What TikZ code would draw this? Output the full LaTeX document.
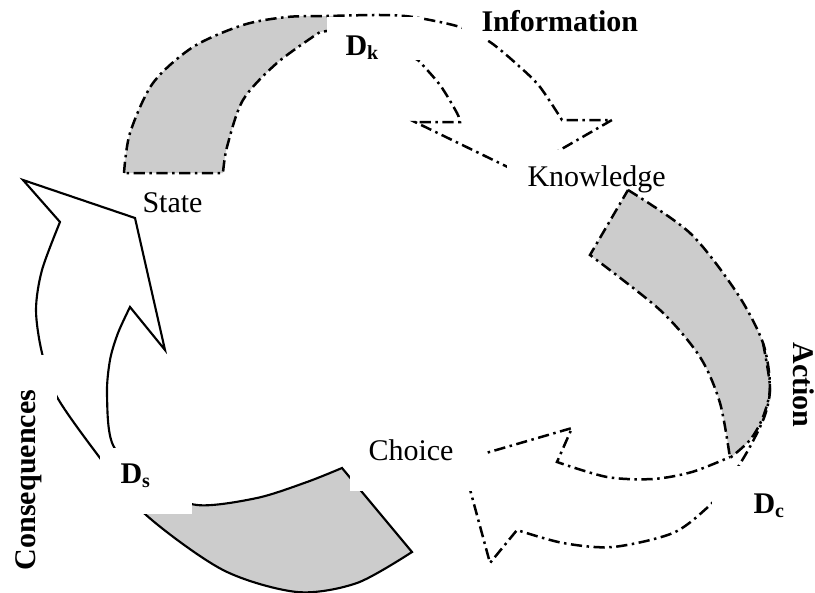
\documentclass[tikz,border=0pt]{standalone}
\usepackage{fontspec}
\setmainfont{Liberation Serif}
\definecolor{shadegray}{HTML}{CCCCCC}

\begin{document}
\begin{tikzpicture}[x=0.4pt,y=-0.4pt,
    dashdot/.style={line width=1pt, dash pattern=on 4.5pt off 1.8pt on 1pt off 1.8pt},
    solidline/.style={line width=0.85pt},
    mask/.style={fill=white},
    lbl/.style={inner sep=0pt, anchor=base west, font=\fontsize{12}{14}\selectfont},
    blbl/.style={lbl, font=\fontsize{12}{14}\selectfont\bfseries}]
\useasboundingbox (0,0) rectangle (815,593);

\def\infopath{plot[smooth] coordinates {(124,173) (130,133) (153,83) (193,47) (243,25) (287,17) (327,16) (380,15) (413,17) (460,27) (490,42) (520,67) (540,87) (562,120)} -- (612,120) -- (520,173) -- (415,122) -- (460,122) -- plot[smooth] coordinates {(460,122) (457,113) (440,85) (418,60)} -- (370,36) -- (327,31) -- plot[smooth] coordinates {(320,32) (277,63) (243,100) (227,147) (223,173)} -- cycle}
\def\conspath{plot[smooth] coordinates {(60,222) (42,270) (36,310) (42,353) (57,397) (100,458) (145,514) (223,570) (297,592) (357,583) (412,552)} -- (342,468) -- plot[smooth] coordinates {(342,468) (307,482) (257,498) (197,505) (150,485) (113,445) (107,395) (110,360) (118,333) (130,307)} -- (165,350) -- (135,218) -- (23,180) -- cycle}

% Information
\begin{scope}
\clip (0,0) rectangle (338,200);
\fill[shadegray] \infopath;
\end{scope}
\draw[dashdot] \infopath;

% Action
\filldraw[dashdot, fill=shadegray] plot[smooth] coordinates {(628,190) (690,233) (737,293) (763,343) (770,387) (763,417) (750,440) (730,458)} -- plot[smooth] coordinates {(730,458) (720,403) (700,357) (660,310) (590,255)} -- cycle;
\draw[dashdot] plot[smooth] coordinates {(763,343) (770,387) (765,415) (752,443) (738,467) (722,490) (708,507) (673,533) (613,547) (563,543) (517,530)} -- (490,563) -- (462,460) -- (572,428) -- (557,462) -- plot[smooth] coordinates {(557,462) (607,477) (653,479) (692,472) (730,457)};

% Consequences
\begin{scope}
\clip (135,460) rectangle (450,600);
\fill[shadegray] \conspath;
\end{scope}
\draw[solidline] \conspath;

\fill[mask] (327,17) rectangle (420,60);
\fill[mask] (462,0) rectangle (640,40);
\fill[mask] (507,150) rectangle (665,188);
\fill[mask] (350,425) rectangle (487,491);
\fill[mask] (100,448) rectangle (192,514);
\fill[mask] (0,355) rectangle (57,585);
\fill[mask] (712,466) rectangle (800,530);

\node[blbl] (info) at (481,31) {Information};
\node[blbl] (dk) at (345,55) {D\textsubscript{k}};
\node[lbl] (state) at (142,212) {State};
\node[lbl] (know) at (527,187) {Knowledge};
\node[lbl] (choice) at (368,460) {Choice};
\node[blbl] (ds) at (120,483) {D\textsubscript{s}};
\node[blbl] (dc) at (753,513) {D\textsubscript{c}};
\node[blbl, anchor=base, rotate=-90] (action) at (793,385) {Action};
\node[blbl, anchor=base, rotate=90] (conseq) at (35,480) {Consequences};
\end{tikzpicture}
\end{document}
